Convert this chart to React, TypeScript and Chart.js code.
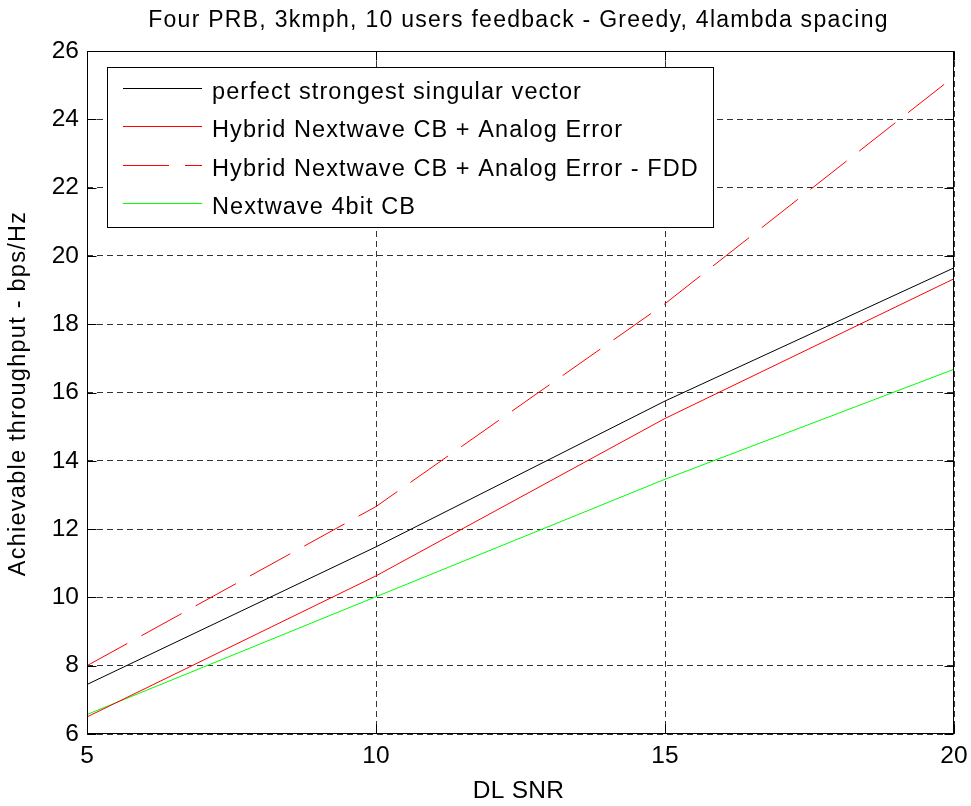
import React, { useEffect, useRef } from 'react';
import { Chart, registerables } from 'chart.js';

Chart.register(...registerables);

// ---- data ----
const snr = [5, 10, 15, 20];
const perfectSV = [7.45, 11.48, 15.75, 19.65];
const hybridCB = [6.5, 10.63, 15.24, 19.33];
const hybridFDD = [8.0, 12.66, 18.6, 25.25];
const nextwave4bit = [6.57, 10.02, 13.46, 16.68];

const seriesLabels = [
  'perfect strongest singular vector',
  'Hybrid Nextwave CB + Analog Error',
  'Hybrid Nextwave CB + Analog Error - FDD',
  'Nextwave 4bit CB',
];
const chartTitle = 'Four PRB, 3kmph, 10 users feedback - Greedy, 4lambda spacing';
const xTitle = 'DL SNR';
const yTitle = 'Achievable throughput - bps/Hz';
const xTickValues = [5, 10, 15, 20];
const yTickValues = [6, 8, 10, 12, 14, 16, 18, 20, 22, 24, 26];

const FONT = "'Liberation Sans', Arial, Helvetica, sans-serif";

const toPoints = (ys: number[]) => snr.map((x, i) => ({ x, y: ys[i] }));

const setSpacing = (ctx: any, px: number) => {
  if ('letterSpacing' in ctx) ctx.letterSpacing = `${px}px`;
};

const framePlugin = {
  id: 'matlabFrame',
  afterDatasetsDraw(chart: any) {
    const { ctx, chartArea: a, scales } = chart;
    const L = Math.round(a.left) + 0.5;
    const R = Math.round(a.right) - 0.5;
    const T = Math.round(a.top) + 0.5;
    const B = Math.round(a.bottom) - 0.5;
    ctx.save();
    ctx.strokeStyle = '#000';
    ctx.lineWidth = 1;
    ctx.setLineDash([]);
    // inward ticks
    const tl = 9;
    ctx.beginPath();
    xTickValues.forEach((v) => {
      const px = Math.round(scales.x.getPixelForValue(v)) + 0.5;
      ctx.moveTo(px, B);
      ctx.lineTo(px, B - tl);
      ctx.moveTo(px, T);
      ctx.lineTo(px, T + tl);
    });
    yTickValues.forEach((v) => {
      const py = Math.round(scales.y.getPixelForValue(v)) + 0.5;
      ctx.moveTo(L, py);
      ctx.lineTo(L + tl, py);
      ctx.moveTo(R, py);
      ctx.lineTo(R - tl, py);
    });
    ctx.stroke();
    ctx.strokeRect(L, T, R - L, B - T);

    // legend
    const ds = chart.data.datasets;
    ctx.font = `23.5px ${FONT}`;
    setSpacing(ctx, 1.08);
    let maxW = 0;
    ds.forEach((d: any) => {
      maxW = Math.max(maxW, ctx.measureText(d.label).width);
    });
    const lx = Math.round(a.left) + 20;
    const ly = Math.round(a.top) + 16;
    const rowH = 38.1;
    const lw = Math.round(105 + maxW + 14);
    const lh = 160;
    ctx.fillStyle = '#fff';
    ctx.fillRect(lx, ly, lw, lh);
    ctx.strokeStyle = '#000';
    ctx.strokeRect(lx + 0.5, ly + 0.5, lw, lh);
    ds.forEach((d: any, i: number) => {
      const cy = Math.round(ly + 21.3 + i * rowH) + 0.5;
      ctx.beginPath();
      ctx.strokeStyle = d.borderColor;
      ctx.lineWidth = 1;
      ctx.setLineDash(d.borderDash || []);
      ctx.moveTo(lx + 16, cy);
      ctx.lineTo(lx + 95, cy);
      ctx.stroke();
      ctx.setLineDash([]);
      ctx.fillStyle = '#000';
      ctx.textBaseline = 'alphabetic';
      ctx.textAlign = 'left';
      ctx.fillText(d.label, lx + 105, cy + 10);
    });

    // chart title
    ctx.fillStyle = '#000';
    ctx.font = `23px ${FONT}`;
    setSpacing(ctx, 1.27);
    ctx.textAlign = 'center';
    ctx.textBaseline = 'alphabetic';
    const cx = (a.left + a.right) / 2;
    ctx.fillText(chartTitle, cx - 2, 27);

    // x axis title
    ctx.font = `24.5px ${FONT}`;
    setSpacing(ctx, 0.3);
    ctx.fillText(xTitle, cx - 2, 798);

    // y axis title
    ctx.font = `23.5px ${FONT}`;
    setSpacing(ctx, 1.25);
    ctx.save();
    ctx.translate(25, (a.top + a.bottom) / 2 + 1);
    ctx.rotate(-Math.PI / 2);
    ctx.fillText(yTitle, 0, 0);
    ctx.restore();
    ctx.restore();
  },
};

export default function App() {
  const ref = useRef<HTMLCanvasElement | null>(null);
  useEffect(() => {
    if (!ref.current) return;
    const chart = new Chart(ref.current, {
      type: 'line',
      data: {
        datasets: [
          { label: seriesLabels[0], data: toPoints(perfectSV), borderColor: '#000000' },
          { label: seriesLabels[1], data: toPoints(hybridCB), borderColor: '#ff0000' },
          { label: seriesLabels[2], data: toPoints(hybridFDD), borderColor: '#ff0000', borderDash: [46, 16] },
          { label: seriesLabels[3], data: toPoints(nextwave4bit), borderColor: '#00ff00' },
        ].map((d) => ({
          ...d,
          borderWidth: 1,
          pointRadius: 0,
          pointHoverRadius: 0,
          tension: 0,
          fill: false,
        })),
      },
      options: {
        responsive: false,
        animation: false,
        events: [],
        layout: { padding: { top: 51, right: 17, left: 0, bottom: 0 } },
        plugins: {
          legend: { display: false },
          title: { display: false },
          tooltip: { enabled: false },
        },
        scales: {
          x: {
            type: 'linear',
            min: 5,
            max: 20,
            afterBuildTicks: (s: any) => {
              s.ticks = xTickValues.map((v) => ({ value: v }));
            },
            afterFit: (s: any) => {
              s.height = 72;
              s.paddingLeft = 0;
              s.paddingRight = 0;
            },
            ticks: {
              color: '#000',
              font: { family: FONT, size: 24.5 },
              padding: 8,
              maxRotation: 0,
              autoSkip: false,
            },
            grid: { color: 'rgba(0,0,0,0.8)', lineWidth: 1, drawTicks: false },
            border: { display: false, dash: [6, 4] },
            title: { display: false },
          },
          y: {
            type: 'linear',
            min: 6,
            max: 26,
            afterBuildTicks: (s: any) => {
              s.ticks = yTickValues.map((v) => ({ value: v }));
            },
            afterFit: (s: any) => {
              s.width = 87;
              s.paddingTop = 0;
              s.paddingBottom = 0;
            },
            ticks: {
              color: '#000',
              font: { family: FONT, size: 24.5 },
              padding: 8,
              autoSkip: false,
            },
            grid: { color: 'rgba(0,0,0,0.8)', lineWidth: 1, drawTicks: false },
            border: { display: false, dash: [6, 4] },
            title: { display: false },
          },
        },
      },
      plugins: [framePlugin],
    } as any);
    return () => chart.destroy();
  }, []);
  return (
    <div style={{ position: 'absolute', left: 0, top: 0, width: 971, height: 806 }}>
      <canvas ref={ref} width={971} height={806} style={{ display: 'block' }} />
    </div>
  );
}
